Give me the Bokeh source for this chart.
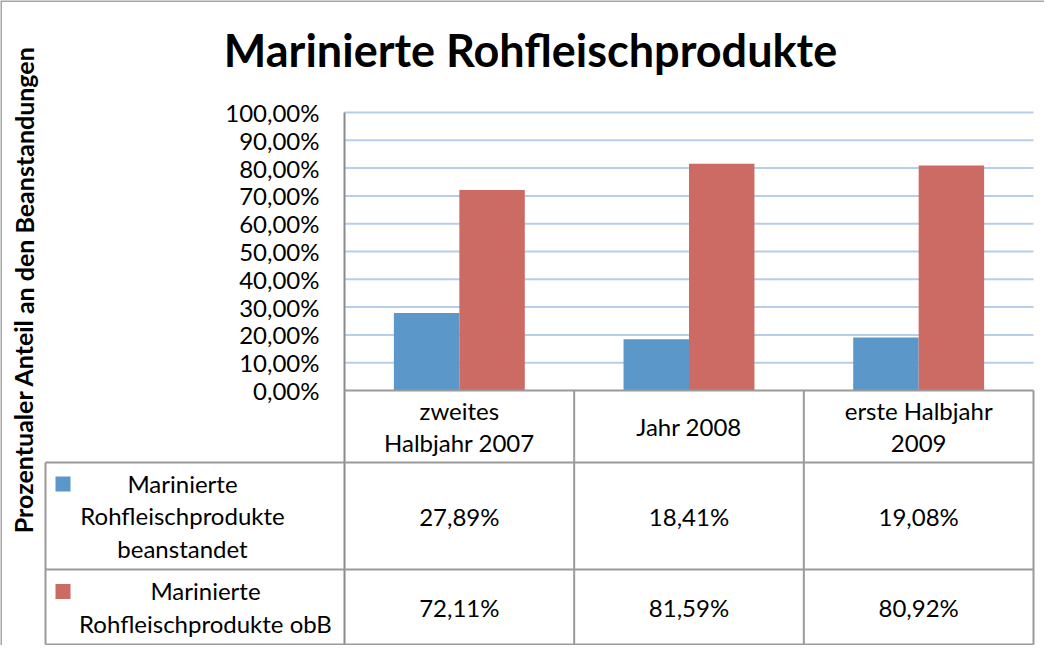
from bokeh.plotting import figure
from bokeh.models import Range1d
from bokeh.core.properties import value
from bokeh.embed import file_html
from bokeh.resources import INLINE

# ---- data ----
title = "Marinierte Rohfleischprodukte"
y_label = "Prozentualer Anteil an den Beanstandungen"
categories = ["zweites\nHalbjahr 2007", "Jahr 2008", "erste Halbjahr\n2009"]
series_names = ["Marinierte\nRohfleischprodukte\nbeanstandet",
                "Marinierte\nRohfleischprodukte obB"]
beanstandet = [27.89, 18.41, 19.08]
obB = [72.11, 81.59, 80.92]
tick_values = [0, 10, 20, 30, 40, 50, 60, 70, 80, 90, 100]
tick_labels = ["0,00%", "10,00%", "20,00%", "30,00%", "40,00%", "50,00%",
               "60,00%", "70,00%", "80,00%", "90,00%", "100,00%"]
colors = ["#5B97C8", "#CC6B64"]

FONT = value("Lato")
W, H = 1044, 645
# pixel geometry of the page (used only to set ranges)
px0, px3 = 352.0, 1041.0          # x of category 0 .. 3
py100, py0 = 120.0, 398.0         # y of 100% and 0%
sx = (px3 - px0) / 3.0
sy = (py0 - py100) / 100.0
x_start = (8 - px0) / sx
x_end = (8 + W - px0) / sx
y_end = 100 + (py100 - 8) / sy
y_start = -(8 + H - py0) / sy

p = figure(width=W, height=H, output_backend="svg", toolbar_location=None,
           x_range=Range1d(x_start, x_end), y_range=Range1d(y_start, y_end),
           min_border=0)
p.axis.visible = False
p.grid.visible = False
p.outline_line_color = None
p.background_fill_color = "white"
p.border_fill_color = "white"

# chart area border (left and top edges visible)
p.segment(x0=[x_start, x_start], x1=[x_start, x_end], y0=[y_start, y_end],
          y1=[y_end, y_end], line_color="#a6a6a6", line_width=3)

n = len(categories)
# gridlines
p.segment(x0=[0] * 10, x1=[n] * 10, y0=tick_values[1:], y1=tick_values[1:],
          line_color="#B8CEE8", line_width=2)

# bars
bw = 0.285
xs = [i + 0.5 for i in range(n)]
p.vbar(x=[x - bw / 2 for x in xs], top=beanstandet, bottom=0, width=bw,
       fill_color=colors[0], line_color=None)
p.vbar(x=[x + bw / 2 for x in xs], top=obB, bottom=0, width=bw,
       fill_color=colors[1], line_color=None)

# table geometry (in data units)
h_head = -(470 - py0) / sy
h_r1 = -(577 - py0) / sy
h_r2 = -(652 - py0) / sy
x_lab = (53 - px0) / sx
grey = "#9a9a9a"

# axis line
p.segment(x0=[0], x1=[0], y0=[100], y1=[h_r2], line_color="#8a8a8a", line_width=2)
# horizontal table lines
p.segment(x0=[0, x_lab, x_lab, x_lab], x1=[n, n, n, n],
          y0=[0, h_head, h_r1, h_r2], y1=[0, h_head, h_r1, h_r2],
          line_color=grey, line_width=2)
# vertical table lines
p.segment(x0=[1, 2, 3], x1=[1, 2, 3], y0=[0] * 3, y1=[h_r2] * 3,
          line_color=grey, line_width=2)
p.segment(x0=[x_lab], x1=[x_lab], y0=[h_head], y1=[h_r2],
          line_color=grey, line_width=2)

# tick labels
p.text(x=[(327 - px0) / sx] * len(tick_values), y=tick_values, text=tick_labels,
       text_font=FONT, text_font_size="24px", text_align="right",
       text_baseline="middle", text_color="black")

TS = "24px"
LH = 1.11
# category labels
p.text(x=xs, y=[h_head / 2] * n, text=categories, text_font=FONT,
       text_font_size=TS, text_align="center", text_baseline="middle",
       text_line_height=LH, text_color="black")

# values
fmt = lambda v: ("%.2f%%" % v).replace(".", ",")
p.text(x=xs, y=[(h_head + h_r1) / 2] * n, text=[fmt(v) for v in beanstandet],
       text_font=FONT, text_font_size=TS, text_align="center",
       text_baseline="middle", text_color="black")
p.text(x=xs, y=[(h_r1 + h_r2) / 2] * n, text=[fmt(v) for v in obB],
       text_font=FONT, text_font_size=TS, text_align="center",
       text_baseline="middle", text_color="black")

# row labels with legend keys
key_x = (70.5 - px0) / sx
kw = 15 / sx
kh = 15 / sy
p.rect(x=[key_x, key_x], y=[h_head - (491.5 - 470) / sy, h_r1 - (599 - 577) / sy],
       width=kw, height=kh, fill_color=colors, line_color=None)
p.text(x=[(190 - px0) / sx, (213 - px0) / sx],
       y=[(h_head + h_r1) / 2, (h_r1 + h_r2) / 2],
       text=series_names, text_font=FONT, text_font_size=TS,
       text_align="center", text_baseline="middle", text_line_height=LH,
       text_color="black")

# title
p.text(x=[(538 - px0) / sx], y=[100 + (py100 - 57) / sy], text=[title],
       text_font=FONT, text_font_size="45px", text_font_style="bold",
       text_align="center", text_baseline="middle", text_color="black")

# y axis title
p.text(x=[(31 - px0) / sx], y=[100 - (297 - py100) / sy], text=[y_label],
       text_font=FONT, text_font_size="25px", text_font_style="bold",
       text_align="center", text_baseline="middle", angle=1.5707963,
       text_color="black")

open("out.html", "w").write(file_html(p, INLINE))
